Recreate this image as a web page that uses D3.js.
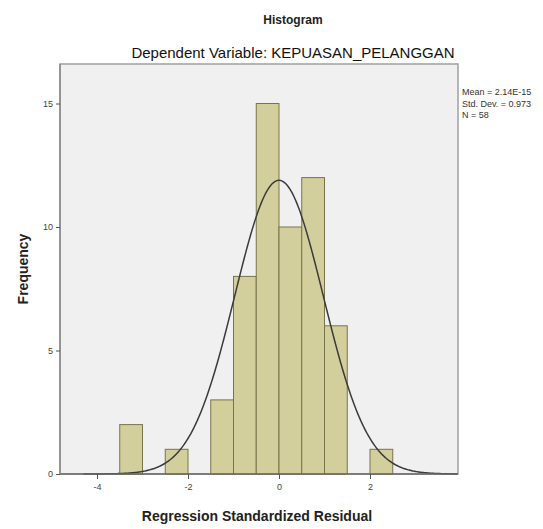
<!DOCTYPE html>
<html lang="en">
<head>
  <meta charset="UTF-8">
  <title>Histogram</title>
  <script src="https://d3js.org/d3.v7.min.js"></script>
  <style>
    body { margin: 0; background: #fff; }
    text { font-family: "Liberation Sans", Arial, sans-serif; }
  </style>
</head>
<body>
  <script>
    // bins of the standardized residual (lower edge, upper edge) and counts
    const binStart = [-3.5, -2.5, -1.5, -1.0, -0.5, 0.0, 0.5, 1.0, 2.0];
    const binEnd = [-3.0, -2.0, -1.0, -0.5, 0.0, 0.5, 1.0, 1.5, 2.5];
    const counts = [2, 1, 3, 8, 15, 10, 12, 6, 1];
    const xTicks = [-4, -2, 0, 2];
    const yTicks = [0, 5, 10, 15];
    const stats = ["Mean = 2.14E-15", "Std. Dev. = 0.973", "N = 58"];
    const mean = 0, sd = 0.973, n = 58, binWidth = 0.5;

    const W = 543, H = 529;
    const plot = { left: 60, top: 64, right: 458, bottom: 474 };

    const svg = d3.select("body").append("svg")
      .attr("width", W)
      .attr("height", H);

    const x = d3.scaleLinear().domain([0, 1]).range([279, 324.5]);
    const y = d3.scaleLinear().domain([0, 15]).range([plot.bottom, 103.5]);

    // plot background
    svg.append("rect")
      .attr("x", plot.left)
      .attr("y", plot.top)
      .attr("width", plot.right - plot.left)
      .attr("height", plot.bottom - plot.top)
      .attr("fill", "#f0f0f0")
      .attr("stroke", "#a0a0a0")
      .attr("stroke-width", 1.5);

    // bars
    svg.selectAll(".bar")
      .data(counts)
      .enter().append("rect")
      .attr("class", "bar")
      .attr("x", (d, i) => x(binStart[i]))
      .attr("width", (d, i) => x(binEnd[i]) - x(binStart[i]))
      .attr("y", d => y(d))
      .attr("height", d => y(0) - y(d))
      .attr("fill", "#d3cf9c")
      .attr("stroke", "#77744a")
      .attr("stroke-width", 1);

    // normal curve
    const curve = d3.range(-4.3, 4.3, 0.02).map(v => [v,
      n * binWidth / (sd * Math.sqrt(2 * Math.PI)) * Math.exp(-0.5 * Math.pow((v - mean) / sd, 2))]);
    svg.append("path")
      .datum(curve.filter(d => x(d[0]) >= plot.left && x(d[0]) <= plot.right))
      .attr("d", d3.line().x(d => x(d[0])).y(d => y(d[1])))
      .attr("fill", "none")
      .attr("stroke", "#3a3a3a")
      .attr("stroke-width", 1.5);

    // axes
    svg.append("line")
      .attr("x1", plot.left).attr("x2", plot.right)
      .attr("y1", plot.bottom).attr("y2", plot.bottom)
      .attr("stroke", "#6a6a6a").attr("stroke-width", 1.5);
    svg.append("line")
      .attr("x1", plot.left).attr("x2", plot.left)
      .attr("y1", plot.top).attr("y2", plot.bottom)
      .attr("stroke", "#8a8a8a").attr("stroke-width", 1.5);

    const xAxis = svg.append("g")
      .attr("transform", `translate(0,${plot.bottom})`)
      .call(d3.axisBottom(x).tickValues(xTicks).tickFormat(d => String(d)).tickSize(5).tickPadding(5));
    const yAxis = svg.append("g")
      .attr("transform", `translate(${plot.left},0)`)
      .call(d3.axisLeft(y).tickValues(yTicks).tickFormat(d => String(d)).tickSize(4).tickPadding(3));
    [xAxis, yAxis].forEach(g => {
      g.select(".domain").remove();
      g.selectAll(".tick line").attr("stroke", "#555");
      g.selectAll(".tick text")
        .attr("fill", "#444")
        .style("font-size", "9px");
    });

    // titles
    svg.append("text")
      .attr("x", 293).attr("y", 24)
      .attr("text-anchor", "middle")
      .style("font-size", "12px")
      .style("font-weight", "bold")
      .attr("fill", "#222")
      .text("Histogram");
    svg.append("text")
      .attr("x", 293).attr("y", 58)
      .attr("text-anchor", "middle")
      .style("font-size", "15px")
      .attr("fill", "#111")
      .text("Dependent Variable: KEPUASAN_PELANGGAN");

    svg.append("text")
      .attr("x", 257).attr("y", 521)
      .attr("text-anchor", "middle")
      .style("font-size", "14px")
      .style("font-weight", "bold")
      .attr("fill", "#222")
      .text("Regression Standardized Residual");

    svg.append("text")
      .attr("transform", "translate(28,269) rotate(-90)")
      .attr("text-anchor", "middle")
      .style("font-size", "14px")
      .style("font-weight", "bold")
      .attr("fill", "#222")
      .text("Frequency");

    // stats legend
    svg.selectAll(".stat")
      .data(stats)
      .enter().append("text")
      .attr("class", "stat")
      .attr("x", 462)
      .attr("y", (d, i) => 95 + i * 11.5)
      .style("font-size", "9px")
      .attr("fill", "#333")
      .text(d => d);
  </script>
</body>
</html>
